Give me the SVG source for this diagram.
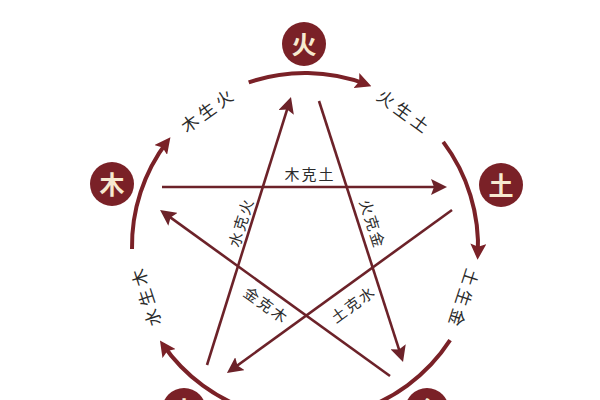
<svg xmlns="http://www.w3.org/2000/svg" width="600" height="400" viewBox="0 0 600 400">
<style>
.node circle{fill:#7a2127}
.node text{fill:#f7ead0;font-family:"Noto Sans CJK SC","Noto Sans",sans-serif;font-weight:bold;font-size:25px;text-anchor:middle;dominant-baseline:central}
.arc{fill:none;stroke:#7a2127;stroke-width:4;marker-end:url(#ah)}
.ke{fill:none;stroke:#6c2229;stroke-width:2.6;marker-end:url(#ah2)}
.lbl{fill:#2b2b2b;font-family:"Noto Sans CJK SC","Noto Sans",sans-serif;font-size:17px;text-anchor:middle;dominant-baseline:central;letter-spacing:4px}
.in{fill:#2b2b2b;font-family:"Noto Sans CJK SC","Noto Sans",sans-serif;font-size:15px;text-anchor:middle;dominant-baseline:central;letter-spacing:2px}
</style>
<defs>
<marker id="ah" viewBox="0 0 16 16" refX="11" refY="8" markerWidth="16" markerHeight="16" markerUnits="userSpaceOnUse" orient="auto">
<path d="M0,0 L16,8 L0,16 L3,8 Z" fill="#7a2127"/>
</marker>
<marker id="ah2" viewBox="0 0 16 16" refX="11" refY="8" markerWidth="16" markerHeight="16" markerUnits="userSpaceOnUse" orient="auto">
<path d="M0,0 L16,8 L0,16 L3,8 Z" fill="#6c2229"/>
</marker>
</defs>
<rect width="600" height="400" fill="#ffffff"/>
<g id="connectors">
<path class="arc" d="M248.7,82.4 A173,173 0 0 1 366.7,84.4"/>
<path class="arc" d="M443.2,141.9 A173,173 0 0 1 477.8,254.8"/>
<path class="arc" d="M450.1,340.2 A173,173 0 0 1 351.8,412.5"/>
<path class="arc" d="M254.4,411.4 A173,173 0 0 1 162.8,344.5"/>
<path class="arc" d="M132.0,249.0 A173,173 0 0 1 167.4,141.2"/>
<line class="ke" x1="162" y1="187" x2="442" y2="187"/>
<line class="ke" x1="390" y1="376" x2="164.1" y2="212.9"/>
<line class="ke" x1="452" y1="210" x2="231.0" y2="370.1"/>
<line class="ke" x1="207" y1="365" x2="289.5" y2="101.8"/>
<line class="ke" x1="319" y1="101" x2="401.5" y2="357.2"/>
<text class="lbl" transform="translate(206.3,110.1) rotate(-36)" x="2">木生火</text>
<text class="lbl" transform="translate(403.7,110.1) rotate(36)" x="2">火生土</text>
<text class="lbl" transform="translate(464.8,297.9) rotate(108)" x="2">土生金</text>
<text class="lbl" transform="translate(145.2,297.9) rotate(-108)" x="2">水生木</text>
<text class="in" x="310" y="173">木克土</text>
<text class="in" transform="translate(240,223) rotate(-72.6)" x="1">水克火</text>
<text class="in" transform="translate(373,223) rotate(72.2)" x="1">火克金</text>
<text class="in" transform="translate(266,304) rotate(35.8)" x="1">金克木</text>
<text class="in" transform="translate(352,304) rotate(-35.9)" x="1">土克水</text>
</g>
<g id="fire" class="node"><circle cx="304" cy="44" r="22"/><text x="304" y="43">火</text></g>
<g id="earth" class="node"><circle cx="501" cy="185" r="22"/><text x="501" y="184">土</text></g>
<g id="wood" class="node"><circle cx="112" cy="184" r="22"/><text x="112" y="183">木</text></g>
<g id="water" class="node"><circle cx="184" cy="410" r="22"/><text x="184" y="409">水</text></g>
<g id="metal" class="node"><circle cx="427" cy="410" r="22"/><text x="427" y="409">金</text></g>
</svg>
